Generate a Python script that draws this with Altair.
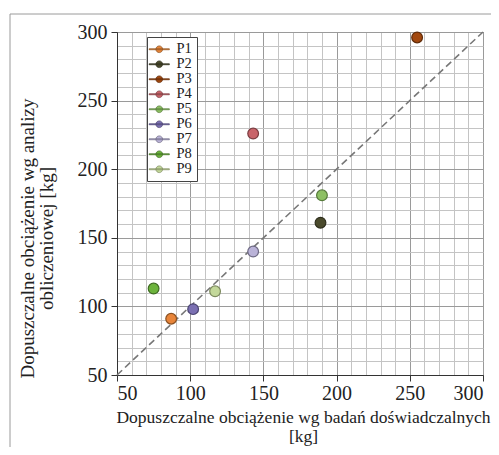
import altair as alt
import pandas as pd

series = ["P1", "P2", "P3", "P4", "P5", "P6", "P7", "P8", "P9"]
x_exp = [87, 189, 255, 143, 190, 102, 143, 75, 117]
y_calc = [91, 161, 296, 226, 181, 98, 140, 113, 111]
fill_colors = ["#E8853A", "#4A4A2C", "#A2480F", "#C9646A", "#8DC063",
               "#7B70B2", "#BAB3D8", "#6CB33C", "#C3D89A"]
stroke_colors = ["#8A5020", "#2E2E1C", "#5E2A08", "#7A3C40", "#557A3A",
                 "#4A4470", "#6E6A84", "#3F6B22", "#7C8A5E"]
diag = [50, 300]
grid_ticks = list(range(50, 301, 10))

df = pd.DataFrame({"x": x_exp, "y": y_calc, "s": series})
dd = pd.DataFrame({"x": diag, "y": diag})

FONT = "Liberation Serif"

tick_color = {"condition": {"test": "datum.value % 50 === 0", "value": "#333333"}, "value": "transparent"}
grid_color = {"condition": {"test": "datum.value % 50 === 0", "value": "#9a9a9a"}, "value": "#c4c4c4"}

xscale = alt.Scale(domain=[50, 300], nice=False, zero=False)
yscale = alt.Scale(domain=[50, 300], nice=False, zero=False)


def make_xaxis():
    return alt.Axis(
        values=grid_ticks, labelOverlap=False,
        labelExpr="datum.value % 50 === 0 ? datum.label : ''",
        title=["Dopuszczalne obciążenie wg badań doświadczalnych", "[kg]"],
        titleX=186, titleY=33, titleBaseline="top", titleFontSize=17.5,
        labelPadding=2,
        tickColor=tick_color, gridColor=grid_color,
    )


def make_yaxis():
    return alt.Axis(
        values=grid_ticks, labelOverlap=False,
        labelExpr="datum.value % 50 === 0 ? datum.label : ''",
        title=["Dopuszczalne obciążenie wg analizy", "obliczeniowej  [kg]"],
        titleX=-99, titleY=206, titleBaseline="top", titleFontSize=19,
        labelPadding=4,
        tickColor=tick_color, gridColor=grid_color,
    )


frame = alt.Chart(pd.DataFrame({"a": [0]})).mark_rect(
    fill="transparent", stroke="#9a9a9a", strokeWidth=1, clip=False
).encode(x=alt.value(-107), x2=alt.value(380), y=alt.value(-18), y2=alt.value(430))

line = alt.Chart(dd).mark_line(
    color="#777777", strokeDash=[7, 4], strokeWidth=1.6
).encode(
    x=alt.X("x:Q", scale=xscale, axis=make_xaxis()),
    y=alt.Y("y:Q", scale=yscale, axis=make_yaxis()),
)

legend = alt.Legend(
    title=None, orient="none", legendX=30, legendY=5,
    strokeColor="#444444", fillColor="white", padding=5,
    labelFont=FONT, labelFontSize=14.5, labelColor="#222",
    symbolType="M-1.65,-0.08L1.65,-0.08L1.65,0.08L-1.65,0.08Z M-0.55,0 A0.55,0.55 0 1,1 0.55,0 A0.55,0.55 0 1,1 -0.55,0Z",
    symbolSize=150, symbolStrokeWidth=0.7, rowPadding=0, labelOffset=10,
)

pts = alt.Chart(df).mark_point(filled=True, size=115, opacity=1, strokeWidth=1.2).encode(
    x=alt.X("x:Q", scale=xscale, axis=make_xaxis()),
    y=alt.Y("y:Q", scale=yscale, axis=make_yaxis()),
    fill=alt.Fill("s:N", scale=alt.Scale(domain=series, range=fill_colors), legend=legend),
    stroke=alt.Stroke("s:N", scale=alt.Scale(domain=series, range=stroke_colors), legend=legend),
)

chart = alt.layer(frame, line, pts).properties(
    width=366, height=343,
    autosize=alt.AutoSizeParams(type="none"),
    padding={"left": 109, "top": 24, "right": 8, "bottom": 72},
    background="white",
).configure_view(stroke="#555555", strokeWidth=1).configure_axis(
    labelFont=FONT, labelFontSize=20, labelColor="#222222",
    titleFont=FONT, titleFontSize=18, titleFontWeight="normal", titleColor="#222222",
    titleLineHeight=19,
    domainColor="#333333", tickSize=6, grid=True, gridWidth=1,
)

chart.save("out.html", embed_options={"renderer": "svg", "actions": False})
